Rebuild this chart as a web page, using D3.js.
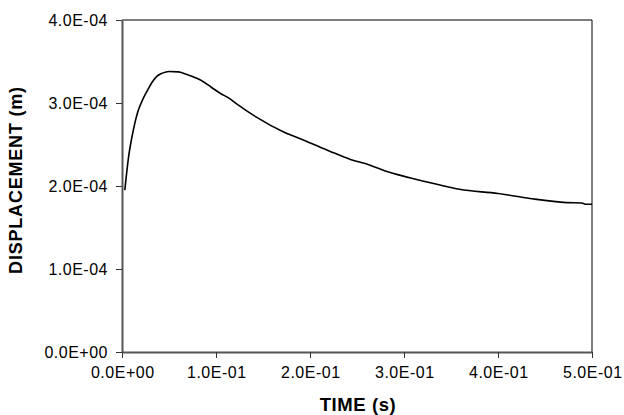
<!DOCTYPE html>
<html><head><meta charset="utf-8">
<script src="https://cdn.jsdelivr.net/npm/d3@7"></script>
<style>body{margin:0;background:#fff}</style>
</head><body>
<svg id="c" width="624" height="415"></svg>
<script>
const time = [0.003,0.007,0.012,0.017,0.022,0.027,0.032,0.037,0.043,0.05,0.06,0.07,0.083,0.095,0.104,0.115,0.122,0.143,0.172,0.196,0.221,0.243,0.264,0.28,0.306,0.335,0.359,0.40,0.434,0.473,0.489,0.494,0.5];
const displacement = [1.95e-4,2.35e-4,2.67e-4,2.90e-4,3.04e-4,3.15e-4,3.25e-4,3.32e-4,3.36e-4,3.38e-4,3.375e-4,3.34e-4,3.28e-4,3.19e-4,3.12e-4,3.05e-4,2.99e-4,2.83e-4,2.65e-4,2.54e-4,2.42e-4,2.32e-4,2.25e-4,2.18e-4,2.10e-4,2.02e-4,1.96e-4,1.91e-4,1.85e-4,1.80e-4,1.795e-4,1.78e-4,1.78e-4];
const xTicks = [0,0.1,0.2,0.3,0.4,0.5];
const yTicks = [0,1e-4,2e-4,3e-4,4e-4];
const xTickLabels = ["0.0E+00","1.0E-01","2.0E-01","3.0E-01","4.0E-01","5.0E-01"];
const yTickLabels = ["0.0E+00","1.0E-04","2.0E-04","3.0E-04","4.0E-04"];

const L=122,R=592,T=20,B=352;
const svg=d3.select("#c");
const x=d3.scaleLinear().domain([0,0.5]).range([L,R]);
const y=d3.scaleLinear().domain([0,4e-4]).range([B,T]);
const font="Arial, 'Liberation Sans', sans-serif";

svg.append("line").attr("x1",L).attr("x2",R).attr("y1",T).attr("y2",T).attr("stroke","#555").attr("stroke-width",1.5);
svg.append("line").attr("x1",R).attr("x2",R).attr("y1",T).attr("y2",B).attr("stroke","#000").attr("stroke-width",1);

const xa=svg.append("g").attr("transform",`translate(0,${B})`)
  .call(d3.axisBottom(x).tickValues(xTicks).tickFormat((d,i)=>xTickLabels[i]).tickSize(6).tickPadding(9).tickSizeOuter(0));
const ya=svg.append("g").attr("transform",`translate(${L},0)`)
  .call(d3.axisLeft(y).tickValues(yTicks).tickFormat((d,i)=>yTickLabels[i]).tickSize(6).tickPadding(8).tickSizeOuter(0));
[xa,ya].forEach(a=>{
  a.attr("font-size",null).attr("font-family",null);
  a.select(".domain").attr("stroke","#555").attr("stroke-width",2);
  a.selectAll(".tick line").attr("stroke","#333").attr("stroke-width",1);
  a.selectAll(".tick text").style("font-family",font).style("font-size","16px").style("letter-spacing","0.5px").attr("fill","#000");
});
xa.selectAll(".tick text").attr("dx","0.25px");

svg.append("path").datum(time.map((t,i)=>[t,displacement[i]]))
  .attr("d",d3.line().x(d=>x(d[0])).y(d=>y(d[1])).curve(d3.curveMonotoneX))
  .attr("fill","none").attr("stroke","#000").attr("stroke-width",1.6);

svg.append("text").attr("x",(L+R)/2+1).attr("y",411).attr("text-anchor","middle")
  .style("font-family",font).style("font-weight","bold").style("font-size","18.5px").style("letter-spacing","0.6px").text("TIME (s)");
svg.append("text").attr("transform",`translate(22,180) rotate(-90)`).attr("text-anchor","middle")
  .style("font-family",font).style("font-weight","bold").style("font-size","18px").style("letter-spacing","0.8px").text("DISPLACEMENT (m)");
</script>
</body></html>
